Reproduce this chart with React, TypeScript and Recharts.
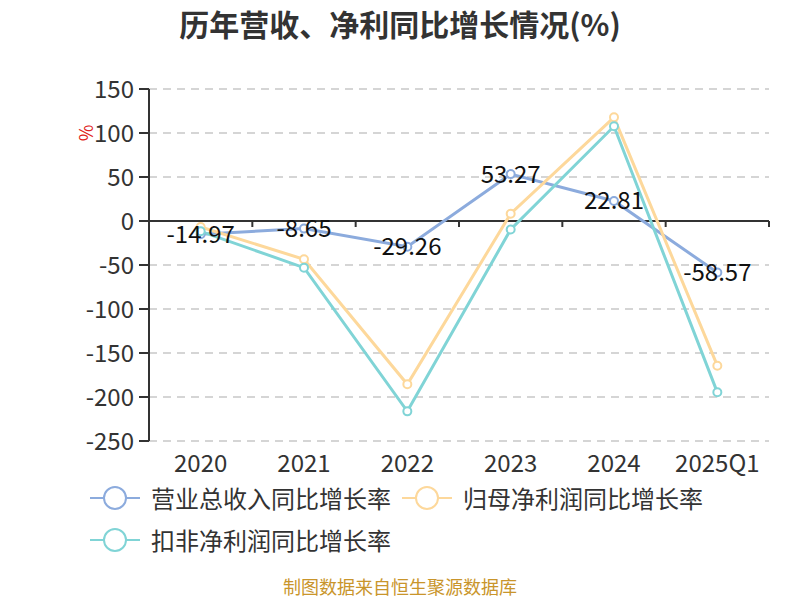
import React from 'react';
import { CartesianGrid, LabelList, Line, LineChart, ReferenceLine, XAxis, YAxis } from 'recharts';

const categories = ['2020', '2021', '2022', '2023', '2024', '2025Q1'];
const revenueGrowth = [-14.97, -8.65, -29.26, 53.27, 22.81, -58.57];
const parentProfitGrowth = [-6.8, -43.5, -185.6, 8.3, 117.8, -164.4];
const deductedProfitGrowth = [-11.7, -53, -216.3, -9.7, 107.6, -194.7];
const yTicks = [-250, -200, -150, -100, -50, 0, 50, 100, 150];

const series = [
  { key: 'rev', name: '营业总收入同比增长率', color: '#8cabdd' },
  { key: 'parent', name: '归母净利润同比增长率', color: '#fdd89b' },
  { key: 'deducted', name: '扣非净利润同比增长率', color: '#80d4d6' },
];

const data = categories.map((year, i) => ({
  year,
  rev: revenueGrowth[i],
  parent: parentProfitGrowth[i],
  deducted: deductedProfitGrowth[i],
}));

const FONT = '"Noto Sans CJK SC", "Noto Sans", sans-serif';

function ZeroAxis(props: any) {
  const { x1, y1, x2 } = props;
  const n = categories.length;
  const step = (x2 - x1) / n;
  const ticks = Array.from({ length: n + 1 }, (_, i) => x1 + step * i);
  return (
    <g>
      <line x1={x1} y1={y1} x2={x2} y2={y1} stroke="#333" strokeWidth={2} />
      {ticks.map((tx) => (
        <line key={tx} x1={tx} y1={y1} x2={tx} y2={y1 + 6} stroke="#333" strokeWidth={2} />
      ))}
    </g>
  );
}

function LegendIcon({ color }: { color: string }) {
  return (
    <svg width={50} height={26} style={{ display: 'block' }}>
      <line x1={0} y1={13} x2={50} y2={13} stroke={color} strokeWidth={2} />
      <circle cx={25} cy={13} r={11} fill="#fff" stroke={color} strokeWidth={2} />
    </svg>
  );
}

function LegendItem({ color, name, left, top }: { color: string; name: string; left: number; top: number }) {
  return (
    <div style={{ position: 'absolute', left, top, display: 'flex', alignItems: 'center', gap: 11 }}>
      <LegendIcon color={color} />
      <span style={{ fontSize: 24, color: '#333', whiteSpace: 'nowrap' }}>{name}</span>
    </div>
  );
}

export default function App() {
  return (
    <div style={{ position: 'absolute', left: 0, top: 0, width: 800, height: 600, background: '#fff', fontFamily: FONT, overflow: 'hidden' }}>
      <div style={{ position: 'absolute', left: 0, top: 1, width: 800, textAlign: 'center', fontSize: 30, fontWeight: 'bold', color: '#333' }}>
        历年营收、净利同比增长情况(%)
      </div>
      <div style={{ position: 'absolute', left: 77, top: 120, fontSize: 18, color: '#e02020', transform: 'rotate(-90deg)' }}>%</div>
      <LineChart width={800} height={600} data={data} margin={{ top: 89, right: 31, bottom: 119, left: 0 }}>
        <CartesianGrid vertical={false} stroke="#c8c8c8" strokeWidth={1.5} strokeDasharray="8 6" />
        <XAxis
          dataKey="year"
          scale="band"
          axisLine={false}
          tickLine={false}
          tickSize={0}
          tickMargin={14}
          height={40}
          interval={0}
          tick={{ fontSize: 24, fill: '#333', fontFamily: FONT }}
        />
        <YAxis
          domain={[-250, 150]}
          ticks={yTicks}
          width={149}
          axisLine={{ stroke: '#333', strokeWidth: 2 }}
          tickLine={{ stroke: '#333', strokeWidth: 2 }}
          tickSize={10}
          tickMargin={5}
          tick={{ fontSize: 24, fill: '#333', fontFamily: FONT }}
          allowDataOverflow
        />
        <ReferenceLine y={0} shape={ZeroAxis} />
        {series.map((s) => (
          <Line
            key={s.key}
            dataKey={s.key}
            name={s.name}
            type="linear"
            stroke={s.color}
            strokeWidth={3}
            dot={{ r: 4, fill: '#fff', stroke: s.color, strokeWidth: 2 }}
            activeDot={false}
            isAnimationActive={false}
          >
            {s.key === 'rev' ? (
              <LabelList dataKey="rev" position="center" fontSize={24} fill="#111" fontFamily={FONT} />
            ) : null}
          </Line>
        ))}
      </LineChart>
      <LegendItem color={series[0].color} name={series[0].name} left={90} top={480} />
      <LegendItem color={series[1].color} name={series[1].name} left={402} top={480} />
      <LegendItem color={series[2].color} name={series[2].name} left={90} top={522} />
      <div style={{ position: 'absolute', left: 0, top: 576, width: 800, textAlign: 'center', fontSize: 18, lineHeight: '20px', color: '#c9952b' }}>
        制图数据来自恒生聚源数据库
      </div>
    </div>
  );
}
